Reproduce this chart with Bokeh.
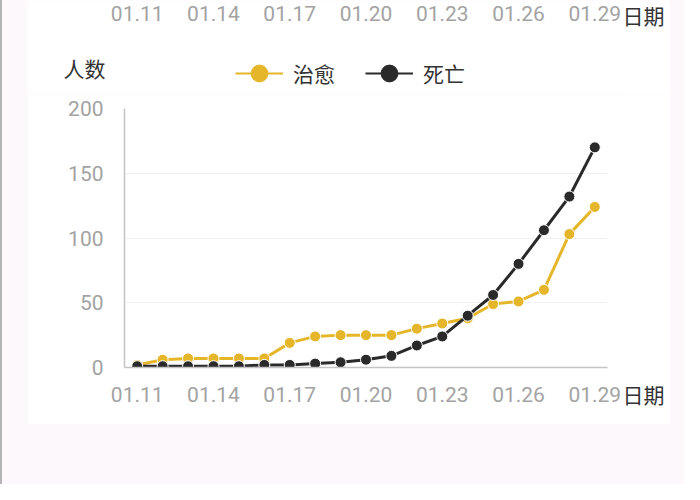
from bokeh.plotting import figure
from bokeh.models import (ColumnDataSource, Range1d, FixedTicker, Legend, LegendItem, Label)
from bokeh.core.properties import value
from bokeh.layouts import column, row
from bokeh.embed import file_html
from bokeh.resources import INLINE

# ---- data ----
dates = ["01.11", "01.12", "01.13", "01.14", "01.15", "01.16", "01.17", "01.18", "01.19",
         "01.20", "01.21", "01.22", "01.23", "01.24", "01.25", "01.26", "01.27", "01.28", "01.29"]
cured = [2, 6, 7, 7, 7, 7, 19, 24, 25, 25, 25, 30, 34, 38, 49, 51, 60, 103, 124]
deaths = [1, 1, 1, 1, 1, 2, 2, 3, 4, 6, 9, 17, 24, 40, 56, 80, 106, 132, 170]
y_ticks = [0, 50, 100, 150, 200]
x_tick_step = 3
series_names = ["治愈", "死亡"]
y_title = "人数"
x_title = "日期"

YELLOW = "#e5b62a"
BLACK = "#2a2a2a"
GRAY = "#a3a3a3"
DARK = "#333333"
CJK = "Noto Sans CJK SC"

# ---- layout constants (pixels) ----
CARD_L, CARD_R, CARD_B = 27, 670, 424
W = CARD_R - CARD_L
H_TOP = 94
H_CHART = CARD_B - H_TOP
BL, BR, BT, BB = 97, 63, 14, 57
STRIP = 48
n = len(dates)
px_per_day = (W - BL - BR) / n
x_lo = -0.5 - BL / px_per_day
x_hi = n - 0.5 + BR / px_per_day

idx = list(range(n))
xt = list(range(0, n, x_tick_step))
src = ColumnDataSource(data=dict(x=idx, cured=cured, deaths=deaths))


def bare(fig):
    fig.outline_line_color = None
    fig.background_fill_color = "white"
    fig.border_fill_color = "white"
    fig.frame_align = False
    return fig


# ---------- header strip: legend, y-axis name, tail of the previous chart's axis ----------
top = bare(figure(width=W, height=H_TOP, output_backend="svg", toolbar_location=None,
                  x_range=Range1d(x_lo, x_hi), y_range=Range1d(0, H_TOP),
                  x_axis_type=None, y_axis_type=None, min_border=0,
                  margin=(0, 684 - CARD_R, 0, CARD_L)))

prev_src = ColumnDataSource(data=dict(x=xt, y=[H_TOP - 13] * len(xt), t=[dates[i] for i in xt]))
top.text("x", "y", text="t", source=prev_src, text_font=value("Roboto"), text_font_size="21px",
         text_color=GRAY, text_align="center", text_baseline="middle")
top.add_layout(Label(x=n - 0.5 + 15 / px_per_day, y=H_TOP - 14, text=x_title, text_font=CJK,
                     text_font_size="21px", text_color=DARK, text_align="left",
                     text_baseline="middle"))
top.add_layout(Label(x=-2.9, y=H_TOP - 67, text=y_title, text_font=CJK, text_font_size="21px",
                     text_color=DARK, text_align="left", text_baseline="middle"))

off = dict(x=[x_lo - 100], y=[-1000])
ly = top.line("x", "y", source=ColumnDataSource(data=dict(off)), line_color=YELLOW, line_width=2)
sy = top.scatter("x", "y", source=ColumnDataSource(data=dict(off)), fill_color=YELLOW, line_color=YELLOW)
lb = top.line("x", "y", source=ColumnDataSource(data=dict(off)), line_color=BLACK, line_width=2)
sb = top.scatter("x", "y", source=ColumnDataSource(data=dict(off)), fill_color=BLACK, line_color=BLACK)
legend = Legend(items=[LegendItem(label=series_names[0], renderers=[ly, sy]),
                       LegendItem(label=series_names[1], renderers=[lb, sb])],
                orientation="horizontal", location=(235 - CARD_L, 0),
                glyph_width=48, glyph_height=42, label_standoff=10, spacing=30,
                padding=0, margin=0, border_line_color=None, background_fill_alpha=0,
                label_text_font=CJK, label_text_font_size="21px", label_text_color=DARK)
top.add_layout(legend)

# ---------- chart ----------
p = bare(figure(width=W - BR + 15, height=H_CHART, output_backend="svg", toolbar_location=None,
                x_range=Range1d(-0.5, n - 0.5), y_range=Range1d(0, 200),
                min_border_left=BL, min_border_right=15, min_border_top=BT, min_border_bottom=BB,
                margin=(0, 0, 0, CARD_L)))

for ax in (p.xaxis[0], p.yaxis[0]):
    ax.axis_line_color = "#c4c4c4"
    ax.axis_line_width = 1.5
    ax.major_tick_line_color = None
    ax.minor_tick_line_color = None
    ax.major_label_text_font = "Roboto"
    ax.major_label_text_font_size = "21px"
    ax.major_label_text_color = GRAY

p.yaxis[0].ticker = FixedTicker(ticks=y_ticks)
p.yaxis[0].major_label_standoff = 15
p.xaxis[0].ticker = FixedTicker(ticks=xt)
p.xaxis[0].major_label_overrides = {i: dates[i] for i in xt}
p.xaxis[0].major_label_standoff = 13

p.xgrid.grid_line_color = None
p.ygrid.grid_line_color = "#f1f1f1"
p.ygrid.grid_line_width = 1

p.line("x", "cured", source=src, line_color=YELLOW, line_width=3)
p.scatter("x", "cured", source=src, size=11, fill_color=YELLOW, line_color="white", line_width=1)
p.line("x", "deaths", source=src, line_color=BLACK, line_width=3)
p.scatter("x", "deaths", source=src, size=11, fill_color=BLACK, line_color="white", line_width=1)

# ---------- right strip with the x-axis name ----------
strip = bare(figure(width=STRIP, height=H_CHART, output_backend="svg", toolbar_location=None,
                    x_range=Range1d(0, STRIP), y_range=Range1d(0, H_CHART),
                    x_axis_type=None, y_axis_type=None, min_border=0,
                    margin=(0, 684 - CARD_R, 0, 0)))
strip.add_layout(Label(x=0, y=H_CHART - (393 - H_TOP), text=x_title, text_font=CJK,
                       text_font_size="21px", text_color=DARK, text_align="left",
                       text_baseline="middle"))

layout = column(top, row(p, strip), width=684, height=484,
                styles={"background-color": "#fcf8fc", "box-shadow": "inset 2px 0 0 #b5b5b5"})

open("out.html", "w").write(file_html(layout, INLINE))
